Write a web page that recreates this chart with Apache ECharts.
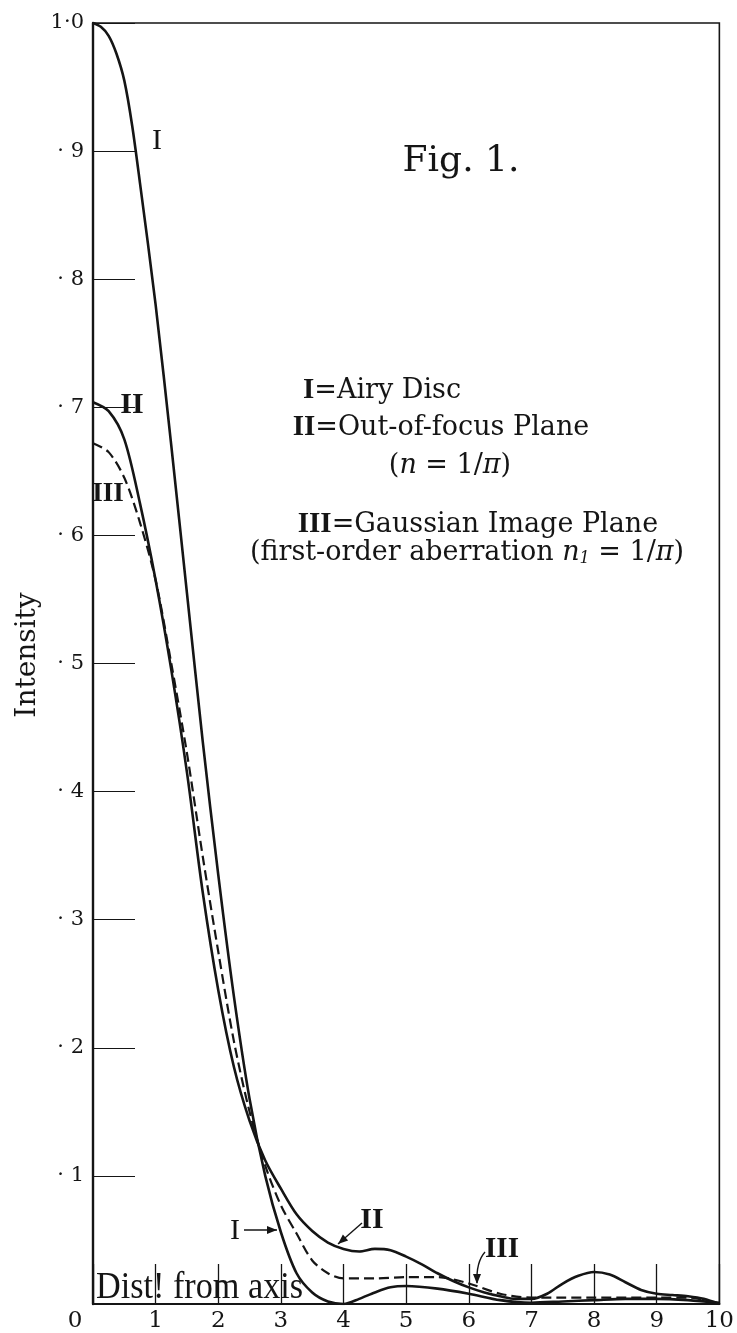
<!DOCTYPE html>
<html>
<head>
<meta charset="utf-8">
<title>Fig. 1</title>
<script src="https://cdn.jsdelivr.net/npm/echarts@6/dist/echarts.min.js"></script>
<style>
html, body { margin: 0; padding: 0; background: #fff; }
#main { width: 737px; height: 1333px; }
</style>
</head>
<body>
<div id="main"></div>
<script>
// curve I - Airy disc
var distI = [0, 0.125, 0.25, 0.375, 0.5, 0.625, 0.75, 1, 1.25, 1.5, 1.75, 2, 2.25, 2.5, 2.75, 3, 3.25, 3.5, 3.75, 4, 4.25, 4.5, 4.75, 5, 5.5, 6, 6.5, 7, 7.5, 8, 8.5, 9, 9.5, 10];
var airyDisc = [1.0, 0.997, 0.99, 0.976, 0.955, 0.92, 0.875, 0.78, 0.67, 0.555, 0.44, 0.335, 0.24, 0.16, 0.10, 0.056, 0.024, 0.009, 0.002, 0.0, 0.004, 0.009, 0.013, 0.014, 0.012, 0.008, 0.003, 0.001, 0.002, 0.003, 0.004, 0.004, 0.003, 0.001];

// curve II - out-of-focus plane
var distII = [0, 0.25, 0.5, 0.75, 1, 1.25, 1.5, 1.75, 2, 2.25, 2.5, 2.75, 3, 3.25, 3.5, 3.75, 4, 4.25, 4.5, 4.75, 5, 5.25, 5.5, 5.75, 6, 6.25, 6.5, 6.75, 7, 7.25, 7.5, 7.75, 8, 8.25, 8.5, 8.75, 9, 9.25, 9.5, 9.75, 10];
var outOfFocus = [0.704, 0.697, 0.675, 0.625, 0.565, 0.495, 0.415, 0.322, 0.245, 0.185, 0.143, 0.112, 0.09, 0.07, 0.057, 0.048, 0.043, 0.041, 0.043, 0.042, 0.037, 0.031, 0.024, 0.018, 0.013, 0.009, 0.006, 0.004, 0.004, 0.008, 0.016, 0.022, 0.025, 0.023, 0.017, 0.011, 0.008, 0.007, 0.006, 0.004, 0.0];

// curve III - gaussian image plane (dashed)
var distIII = [0, 0.25, 0.5, 0.75, 1, 1.25, 1.5, 1.75, 2, 2.25, 2.5, 2.75, 3, 3.25, 3.5, 3.75, 4, 4.5, 5, 5.5, 6, 6.5, 7, 7.5, 8, 8.5, 9, 9.5, 10];
var gaussPlane = [0.672, 0.665, 0.645, 0.61, 0.565, 0.5, 0.43, 0.35, 0.275, 0.205, 0.15, 0.108, 0.077, 0.055, 0.034, 0.024, 0.02, 0.02, 0.021, 0.021, 0.016, 0.008, 0.005, 0.005, 0.005, 0.005, 0.005, 0.005, 0.0];

var xTickLabels = ['0', '1', '2', '3', '4', '5', '6', '7', '8', '9', '10'];
var yTickLabels = ['', '· 1', '· 2', '· 3', '· 4', '· 5', '· 6', '· 7', '· 8', '· 9', '1·0'];

function zip(xs, ys) {
    var out = [];
    for (var i = 0; i < xs.length; i++) {
        out.push([xs[i], ys[i]]);
    }
    return out;
}

var ink = '#151515';
var serif = 'DejaVu Serif';
var roman = 'Liberation Serif';

function label(x, y, text, size, bold) {
    return {
        type: 'text', x: x, y: y, z: 10,
        style: {
            text: text, fill: ink, textAlign: 'center', textVerticalAlign: 'middle',
            fontFamily: roman, fontSize: size, fontWeight: bold ? 'bold' : 'normal'
        }
    };
}

function head(x, y, angle) {
    var len = 10, w = 4;
    var c = Math.cos(angle), s = Math.sin(angle);
    return {
        type: 'polygon', z: 10,
        shape: { points: [[x, y], [x - len * c + w * s, y - len * s - w * c], [x - len * c - w * s, y - len * s + w * c]] },
        style: { fill: ink }
    };
}

function arrow(x1, y1, x2, y2) {
    return [
        { type: 'line', z: 10, shape: { x1: x1, y1: y1, x2: x2, y2: y2 }, style: { stroke: ink, lineWidth: 1.4 } },
        head(x2, y2, Math.atan2(y2 - y1, x2 - x1))
    ];
}

var romanRich = {
    r: { fontFamily: roman, fontWeight: 'bold', fontSize: 29, fill: ink },
    i: { fontFamily: serif, fontStyle: 'italic', fontSize: 27, fill: ink },
    s: { fontFamily: serif, fontStyle: 'italic', fontSize: 16, fill: ink, padding: [12, 0, 0, 0] }
};

function note(x, y, text) {
    return {
        type: 'text', x: x, y: y, z: 10,
        style: {
            text: text, fill: ink, textAlign: 'center', textVerticalAlign: 'middle',
            fontFamily: serif, fontSize: 27, rich: romanRich
        }
    };
}

var graphics = [
    {
        type: 'text', x: 461, y: 162, z: 10,
        style: { text: 'Fig. 1.', fill: ink, textAlign: 'center', textVerticalAlign: 'middle', fontFamily: serif, fontSize: 36 }
    },
    note(382, 391, '{r|I}=Airy Disc'),
    note(441, 428, '{r|II}=Out-of-focus Plane'),
    note(450, 466, '({i|n} = 1/{i|π})'),
    note(478, 525, '{r|III}=Gaussian Image Plane'),
    note(467, 553, '(first-order aberration {i|n}{s|1} = 1/{i|π})'),
    {
        type: 'text', x: 28, y: 655, rotation: Math.PI / 2, z: 10,
        style: { text: 'Intensity', fill: ink, textAlign: 'center', textVerticalAlign: 'middle', fontFamily: serif, fontSize: 28 }
    },
    {
        type: 'text', x: 96, y: 1288, scaleX: 0.9, z: 10,
        style: { text: 'Dist! from axis', fill: ink, textAlign: 'left', textVerticalAlign: 'middle', fontFamily: roman, fontSize: 38 }
    },
    label(157, 141, 'I', 30, false),
    label(132, 405, 'II', 30, true),
    label(108, 494, 'III', 27, true),
    label(235, 1231, 'I', 30, false),
    label(372, 1220, 'II', 30, true),
    label(502, 1250, 'III', 29, true),
    {
        type: 'bezierCurve', z: 10,
        shape: { x1: 485, y1: 1252, x2: 477, y2: 1283, cpx1: 476, cpy1: 1262 },
        style: { stroke: ink, lineWidth: 1.4, fill: null }
    },
    head(477, 1284, Math.PI / 2)
].concat(arrow(244, 1230, 277, 1230), arrow(362, 1223, 338, 1244));

var chart = echarts.init(document.getElementById('main'));
var option = {
    animation: false,
    backgroundColor: '#ffffff',
    grid: {
        left: 93, right: 9, top: 23, bottom: 27,
        show: true, borderColor: ink, borderWidth: 1.6, backgroundColor: 'transparent'
    },
    xAxis: {
        type: 'value', min: 0, max: 10, interval: 1,
        axisLine: { lineStyle: { color: ink, width: 2.2 } },
        axisTick: { inside: true, length: 40, lineStyle: { color: ink, width: 1.3 } },
        splitLine: { show: false },
        axisLabel: {
            color: ink, fontFamily: serif, fontSize: 23, margin: 6,
            formatter: function (v) {
                var t = xTickLabels[Math.round(v)];
                return v === 0 ? '{o|' + t + '}' : t;
            },
            rich: { o: { fontFamily: serif, fontSize: 23, color: ink, padding: [0, 36, 0, 0] } }
        }
    },
    yAxis: {
        type: 'value', min: 0, max: 1, interval: 0.1,
        axisLine: { show: true, lineStyle: { color: ink, width: 2.4 } },
        axisTick: { show: true, inside: true, length: 42, lineStyle: { color: ink, width: 1.2 } },
        splitLine: { show: false },
        axisLabel: {
            color: ink, fontFamily: serif, fontSize: 21, margin: 9,
            formatter: function (v) { return yTickLabels[Math.round(v * 10)]; }
        }
    },
    series: [
        {
            name: 'I', type: 'line', data: zip(distI, airyDisc), smooth: 0.3,
            symbol: 'none', lineStyle: { color: ink, width: 2.6 }, z: 3
        },
        {
            name: 'II', type: 'line', data: zip(distII, outOfFocus), smooth: 0.3,
            symbol: 'none', lineStyle: { color: ink, width: 2.6 }, z: 3
        },
        {
            name: 'III', type: 'line', data: zip(distIII, gaussPlane), smooth: 0.3,
            symbol: 'none', lineStyle: { color: ink, width: 2.2, type: [10, 5] }, z: 3
        }
    ],
    graphic: graphics
};
chart.setOption(option);
</script>
</body>
</html>
